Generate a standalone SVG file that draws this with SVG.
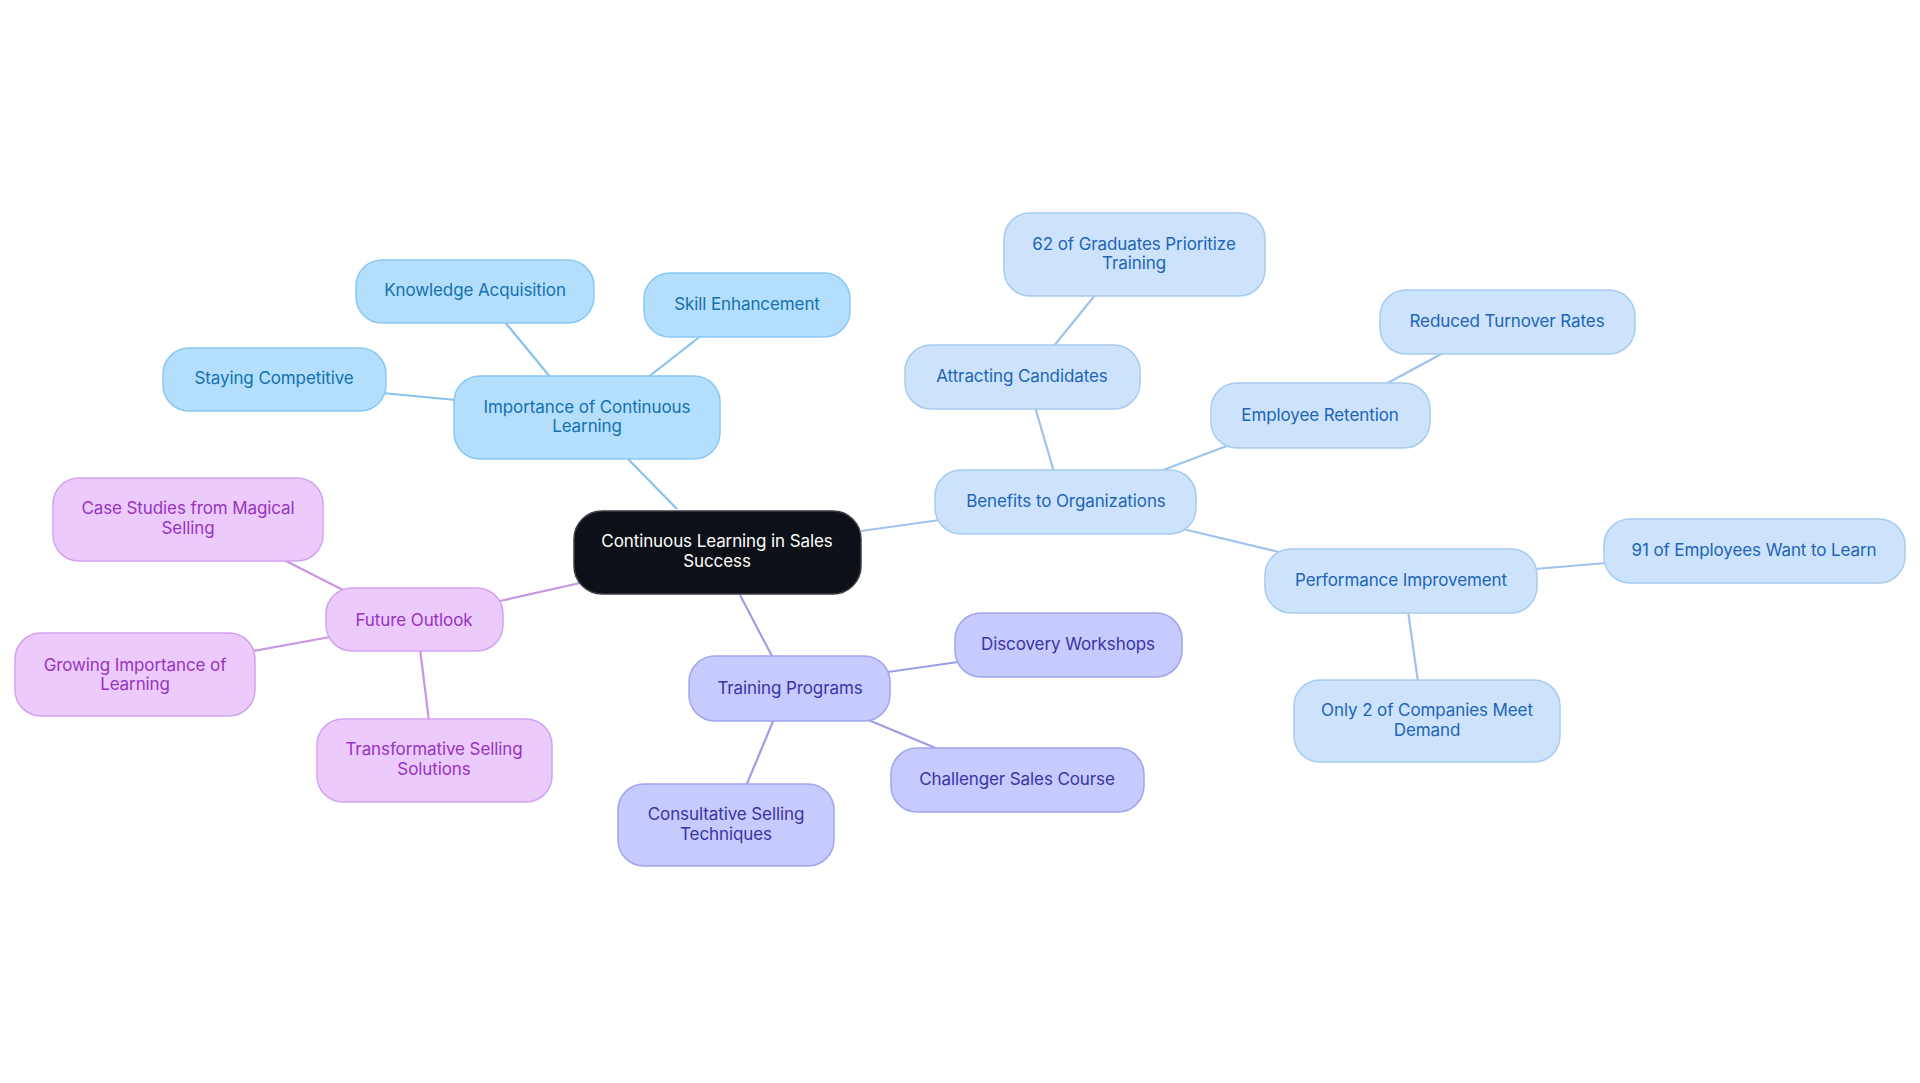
<svg xmlns="http://www.w3.org/2000/svg" width="1920" height="1083" viewBox="0 0 1920 1083">
<style>
text{font-family:Inter,"Noto Sans","Liberation Sans",sans-serif;font-size:17px;text-anchor:middle;dominant-baseline:central;letter-spacing:-0.1px}
.c rect{fill:#0d1117;stroke:#3a3f47;stroke-width:1.5}
.c text{fill:#ffffff}
.a rect{fill:#b3dffc;stroke:#8cc8f2;stroke-width:1.5}
.a text{fill:#1570b0}
.b rect{fill:#cce3fb;stroke:#a8cbf0;stroke-width:1.5}
.b text{fill:#2163b8}
.t rect{fill:#c7cafc;stroke:#a0a5ee;stroke-width:1.5}
.t text{fill:#3934a6}
.f rect{fill:#eccafc;stroke:#d2a4ef;stroke-width:1.5}
.f text{fill:#9633c0}
#edges line{stroke-width:2.2;fill:none}
.ea{stroke:#86c3ec}
.eb{stroke:#9fc3ee}
.et{stroke:#9c9ee6}
.ef{stroke:#c996e4}
</style>
<rect width="1920" height="1083" fill="#ffffff"/>
<g id="edges">
<line class="ea" x1="677" y1="509" x2="628" y2="459"/>
<line class="eb" x1="861" y1="531" x2="940" y2="520"/>
<line class="et" x1="740" y1="595" x2="773" y2="658"/>
<line class="ef" x1="580" y1="583" x2="500" y2="601"/>
<line class="ea" x1="551" y1="378" x2="504" y2="321"/>
<line class="ea" x1="647" y1="378" x2="702" y2="335"/>
<line class="ea" x1="456" y1="400" x2="382" y2="393"/>
<line class="eb" x1="1054" y1="472" x2="1035" y2="407"/>
<line class="eb" x1="1053" y1="347" x2="1096" y2="294"/>
<line class="eb" x1="1158" y1="472" x2="1232" y2="444"/>
<line class="eb" x1="1384" y1="385" x2="1445" y2="352"/>
<line class="eb" x1="1183" y1="529" x2="1283" y2="553"/>
<line class="eb" x1="1535" y1="569" x2="1606" y2="563"/>
<line class="eb" x1="1408" y1="611" x2="1418" y2="682"/>
<line class="et" x1="888" y1="672" x2="958" y2="662"/>
<line class="et" x1="866" y1="719" x2="938" y2="749"/>
<line class="et" x1="774" y1="719" x2="746" y2="786"/>
<line class="ef" x1="345" y1="591" x2="282" y2="559"/>
<line class="ef" x1="330" y1="637" x2="253" y2="651"/>
<line class="ef" x1="420" y1="649" x2="429" y2="721"/>
</g>
<g id="n-center" class="c"><rect x="574" y="511" width="287" height="83" rx="28"/><text x="717" y="541">Continuous Learning in Sales</text><text x="717" y="561">Success</text></g>
<g id="n-importance" class="a"><rect x="454" y="376" width="266" height="83" rx="26"/><text x="587" y="407">Importance of Continuous</text><text x="587" y="426">Learning</text></g>
<g id="n-knowledge" class="a"><rect x="356" y="260" width="238" height="63" rx="26"/><text x="475" y="290">Knowledge Acquisition</text></g>
<g id="n-skill" class="a"><rect x="644" y="273" width="206" height="64" rx="26"/><text x="747" y="304">Skill Enhancement</text></g>
<g id="n-staying" class="a"><rect x="163" y="348" width="223" height="63" rx="26"/><text x="274" y="378">Staying Competitive</text></g>
<g id="n-benefits" class="b"><rect x="935" y="470" width="261" height="64" rx="26"/><text x="1066" y="501">Benefits to Organizations</text></g>
<g id="n-attracting" class="b"><rect x="905" y="345" width="235" height="64" rx="26"/><text x="1022" y="376">Attracting Candidates</text></g>
<g id="n-graduates" class="b"><rect x="1004" y="213" width="261" height="83" rx="26"/><text x="1134" y="244">62 of Graduates Prioritize</text><text x="1134" y="263">Training</text></g>
<g id="n-retention" class="b"><rect x="1211" y="383" width="219" height="65" rx="26"/><text x="1320" y="415">Employee Retention</text></g>
<g id="n-turnover" class="b"><rect x="1380" y="290" width="255" height="64" rx="26"/><text x="1507" y="321">Reduced Turnover Rates</text></g>
<g id="n-performance" class="b"><rect x="1265" y="549" width="272" height="64" rx="26"/><text x="1401" y="580">Performance Improvement</text></g>
<g id="n-employees" class="b"><rect x="1604" y="519" width="301" height="64" rx="26"/><text x="1754" y="550">91 of Employees Want to Learn</text></g>
<g id="n-companies" class="b"><rect x="1294" y="680" width="266" height="82" rx="26"/><text x="1427" y="710">Only 2 of Companies Meet</text><text x="1427" y="730">Demand</text></g>
<g id="n-training" class="t"><rect x="689" y="656" width="201" height="65" rx="26"/><text x="790" y="688">Training Programs</text></g>
<g id="n-discovery" class="t"><rect x="955" y="613" width="227" height="64" rx="26"/><text x="1068" y="644">Discovery Workshops</text></g>
<g id="n-challenger" class="t"><rect x="891" y="748" width="253" height="64" rx="26"/><text x="1017" y="779">Challenger Sales Course</text></g>
<g id="n-consultative" class="t"><rect x="618" y="784" width="216" height="82" rx="26"/><text x="726" y="814">Consultative Selling</text><text x="726" y="834">Techniques</text></g>
<g id="n-future" class="f"><rect x="326" y="588" width="177" height="63" rx="26"/><text x="414" y="620">Future Outlook</text></g>
<g id="n-case" class="f"><rect x="53" y="478" width="270" height="83" rx="26"/><text x="188" y="508">Case Studies from Magical</text><text x="188" y="528">Selling</text></g>
<g id="n-growing" class="f"><rect x="15" y="633" width="240" height="83" rx="26"/><text x="135" y="665">Growing Importance of</text><text x="135" y="684">Learning</text></g>
<g id="n-transformative" class="f"><rect x="317" y="719" width="235" height="83" rx="26"/><text x="434" y="749">Transformative Selling</text><text x="434" y="769">Solutions</text></g>
</svg>
